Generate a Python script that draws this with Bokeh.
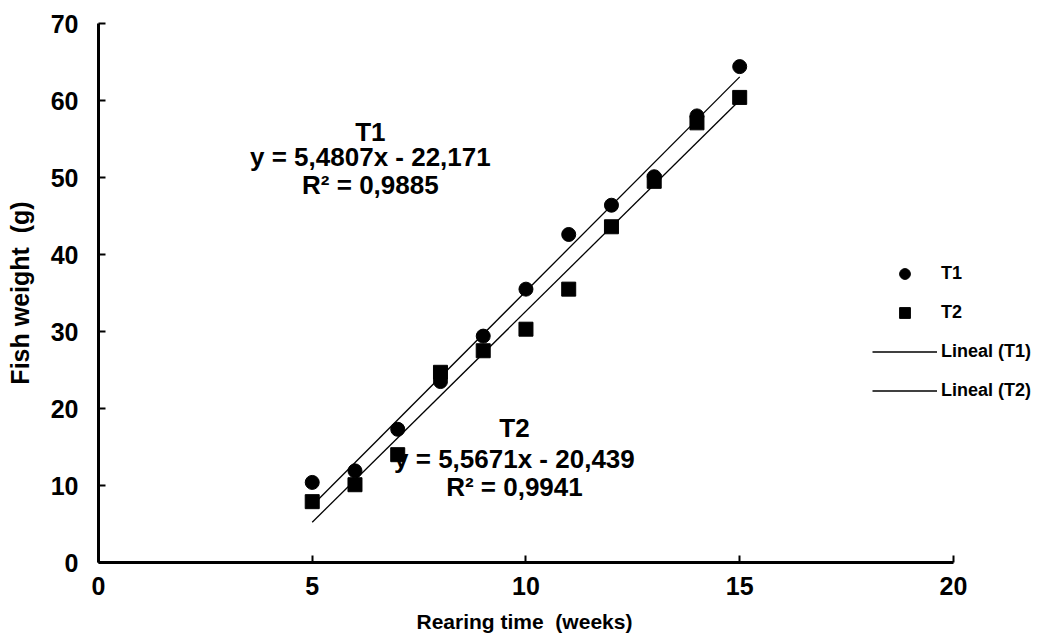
import numpy as np
from bokeh.plotting import figure
from bokeh.models import Range1d, Label, Legend, LegendItem, FixedTicker, Title
from bokeh.embed import file_html
from bokeh.resources import INLINE

# Fish weight (g) per rearing week for the two treatments
weeks = [5, 6, 7, 8, 9, 10, 11, 12, 13, 14, 15]
t1_weight = [10.4, 11.9, 17.3, 23.5, 29.4, 35.5, 42.6, 46.4, 50.1, 58.0, 64.4]
t2_weight = [7.9, 10.1, 14.0, 24.7, 27.5, 30.3, 35.5, 43.6, 49.5, 57.1, 60.4]

# Linear trend lines as printed in the annotation blocks
fit_names = ["T1", "T2"]
fit_slopes = [5.4807, 5.5671]
fit_intercepts = [-22.171, -20.439]
fit_r2 = [0.9885, 0.9941]

x_ticks = [0, 5, 10, 15, 20]
y_ticks = [0, 10, 20, 30, 40, 50, 60, 70]

FONT = "Liberation Sans"
NBSP = "\u00a0"

# The plotting frame runs to the right edge so the legend has room;
# the x axis line itself only spans 0..20.
p = figure(width=1038, height=643, output_backend="svg", toolbar_location=None,
           x_range=Range1d(0, 21.99), y_range=Range1d(0, 70),
           min_border_left=98, min_border_right=0,
           min_border_top=23, min_border_bottom=81)
p.outline_line_color = None
p.xgrid.visible = False
p.ygrid.visible = False
p.background_fill_color = "white"
p.border_fill_color = "white"

for ax in (p.xaxis[0], p.yaxis[0]):
    ax.axis_line_width = 3
    ax.axis_line_color = "black"
    ax.major_tick_line_width = 2
    ax.major_tick_line_color = "black"
    ax.major_tick_in = 7
    ax.major_tick_out = 0
    ax.minor_tick_line_color = None
    ax.major_label_text_font = FONT
    ax.major_label_text_font_style = "bold"
    ax.major_label_text_font_size = "25px"
    ax.major_label_text_color = "black"
    ax.axis_label_text_font = FONT
    ax.axis_label_text_font_style = "bold"
    ax.axis_label_text_color = "black"

p.xaxis[0].bounds = (0, 20)
p.xaxis[0].ticker = FixedTicker(ticks=x_ticks)
p.yaxis[0].ticker = FixedTicker(ticks=y_ticks)
p.yaxis[0].axis_label = f"Fish weight{NBSP} (g)"
p.yaxis[0].axis_label_text_font_size = "25px"
p.xaxis[0].major_label_standoff = 14
p.yaxis[0].major_label_standoff = 20
p.yaxis[0].axis_label_standoff = 14

# x axis title, centred under the 0..20 span of the axis
p.add_layout(Title(text=f"Rearing time{NBSP} (weeks)", align="left", offset=318,
                   text_font=FONT, text_font_style="bold", text_font_size="21px",
                   text_line_height=0.9, text_color="black", standoff=20), "below")

# Trend lines over the observed weeks
x_line = np.array([weeks[0], weeks[-1]], dtype=float)
line_renderers = []
for m, b in zip(fit_slopes, fit_intercepts):
    r = p.line(x_line, m * x_line + b, line_color="black", line_width=1.3)
    line_renderers.append(r)

r_t1 = p.scatter(weeks, t1_weight, marker="circle", size=14,
                 fill_color="black", line_color="black")
r_t2 = p.scatter(weeks, t2_weight, marker="square", size=14,
                 fill_color="black", line_color="black")

# Equation annotation blocks
block_pos = [(6.36, [55.9, 52.6, 49.0]), (9.73, [17.5, 13.5, 9.75])]
for name, m, b, r2, (bx, ys) in zip(fit_names, fit_slopes, fit_intercepts, fit_r2, block_pos):
    sign = "-" if b < 0 else "+"
    lines = [
        name,
        f"y = {m:.4f}".replace(".", ",") + f"x {sign} " + f"{abs(b):.3f}".replace(".", ","),
        f"R² = {r2:.4f}".replace(".", ","),
    ]
    for txt, yy in zip(lines, ys):
        p.add_layout(Label(x=bx, y=yy, text=txt, text_font=FONT,
                           text_font_style="bold", text_font_size="26px",
                           text_color="black", text_align="center",
                           text_baseline="middle"))

legend = Legend(items=[
    LegendItem(label="T1", renderers=[r_t1]),
    LegendItem(label="T2", renderers=[r_t2]),
    LegendItem(label="Lineal (T1)", renderers=[line_renderers[0]]),
    LegendItem(label="Lineal (T2)", renderers=[line_renderers[1]]),
], location=(774, 158), orientation="vertical")
legend.border_line_color = None
legend.background_fill_alpha = 0
legend.padding = 0
legend.margin = 0
legend.spacing = 12
legend.glyph_width = 65
legend.glyph_height = 27
legend.label_height = 27
legend.label_standoff = 4
legend.label_text_font = FONT
legend.label_text_font_style = "bold"
legend.label_text_font_size = "18px"
legend.label_text_color = "black"
p.add_layout(legend)

open("out.html", "w").write(file_html(p, INLINE))
